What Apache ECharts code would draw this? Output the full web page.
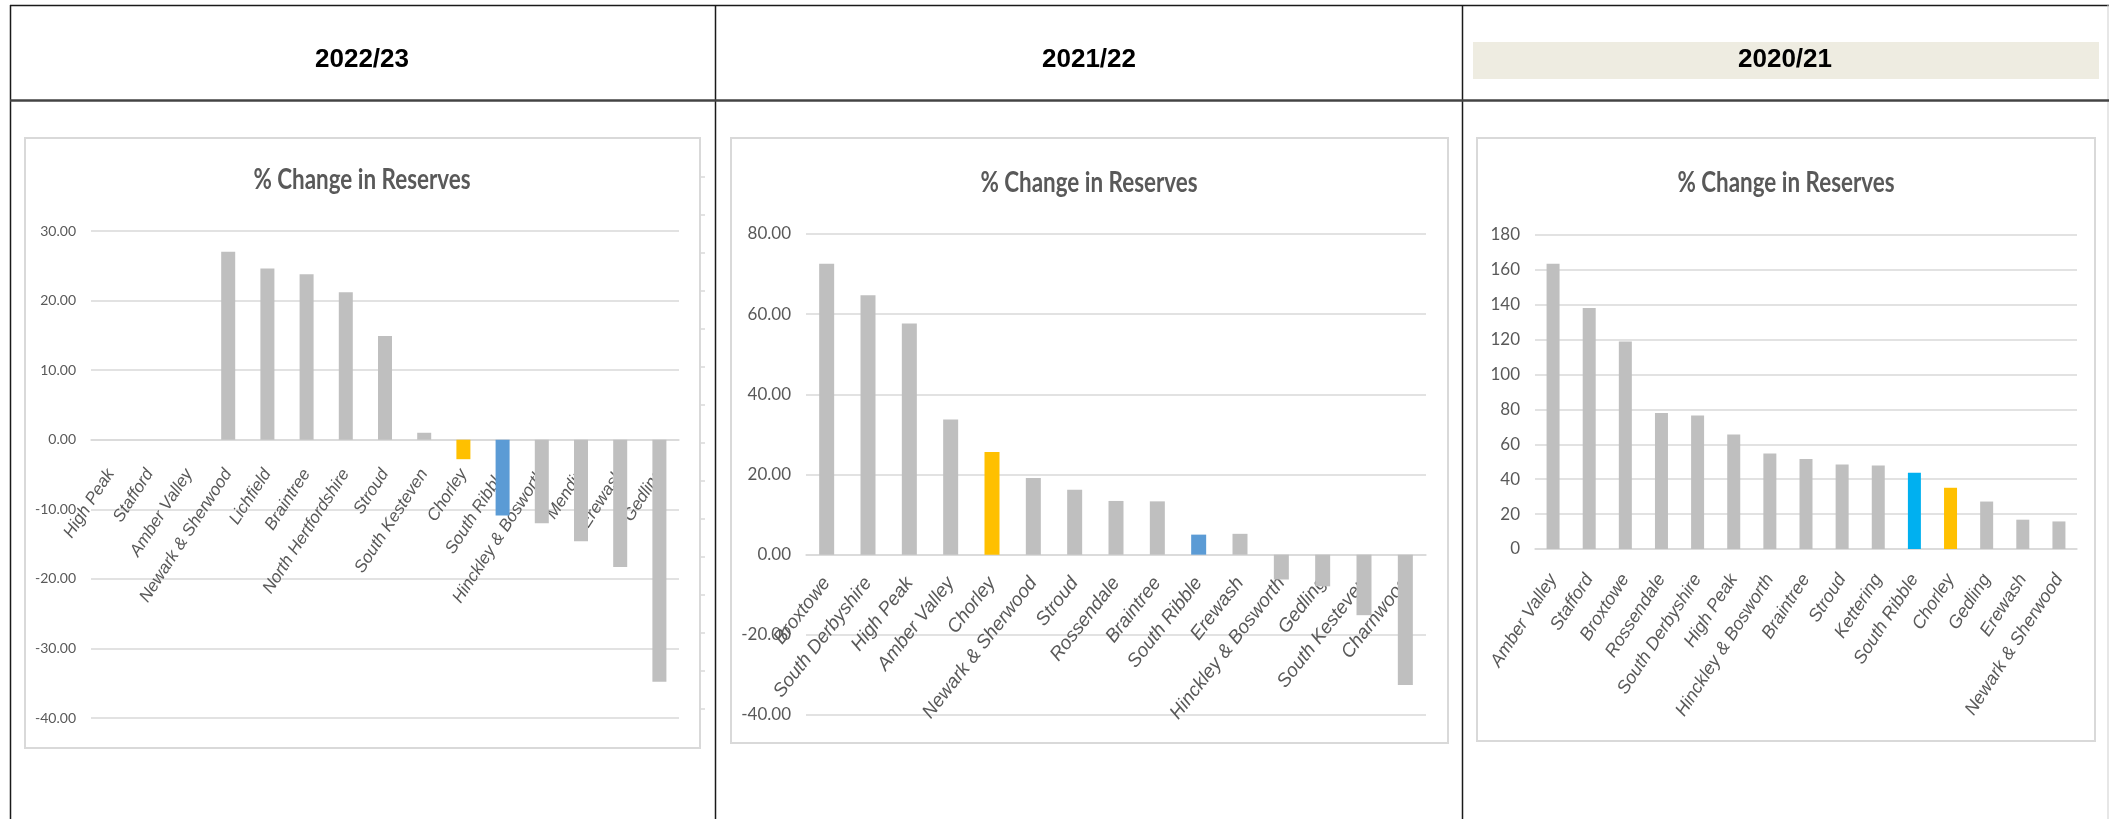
<!DOCTYPE html>
<html>
<head>
<meta charset="utf-8">
<script src="https://cdn.jsdelivr.net/npm/echarts@6/dist/echarts.min.js"></script>
<style>
  html, body { margin: 0; padding: 0; background: #ffffff; }
  #main { width: 2109px; height: 819px; }
</style>
</head>
<body>
<div id="main"></div>
<script>
// Column headers and chart title
const periods = ['2022/23', '2021/22', '2020/21'];
const chartTitle = '% Change in Reserves';

// 2022/23
const councils2223 = ['High Peak', 'Stafford', 'Amber Valley', 'Newark & Sherwood', 'Lichfield', 'Braintree',
  'North Hertfordshire', 'Stroud', 'South Kesteven', 'Chorley', 'South Ribble', 'Hinckley & Bosworth',
  'Mendip', 'Erewash', 'Gedling'];
const change2223 = [0, 0, 0, 27.0, 24.6, 23.8, 21.2, 14.9, 1.0, -2.8, -10.9, -12.0, -14.6, -18.3, -34.8];
const axis2223 = [-40, 30, 10]; // min, max, step

// 2021/22
const councils2122 = ['Broxtowe', 'South Derbyshire', 'High Peak', 'Amber Valley', 'Chorley', 'Newark & Sherwood',
  'Stroud', 'Rossendale', 'Braintree', 'South Ribble', 'Erewash', 'Hinckley & Bosworth', 'Gedling',
  'South Kesteven', 'Charnwood'];
const change2122 = [72.6, 64.7, 57.7, 33.7, 25.6, 19.1, 16.2, 13.4, 13.3, 5.0, 5.2, -6.2, -7.9, -15.1, -32.5];
const axis2122 = [-40, 80, 20];

// 2020/21
const councils2021 = ['Amber Valley', 'Stafford', 'Broxtowe', 'Rossendale', 'South Derbyshire', 'High Peak',
  'Hinckley & Bosworth', 'Braintree', 'Stroud', 'Kettering', 'South Ribble', 'Chorley', 'Gedling',
  'Erewash', 'Newark & Sherwood'];
const change2021 = [163.5, 138.1, 119.0, 77.9, 76.5, 65.7, 54.8, 51.6, 48.5, 47.8, 43.7, 35.1, 27.2, 16.8, 15.8];
const axis2021 = [0, 180, 20];

const FONT = 'Lato, "Open Sans", sans-serif';
const ITALIC_FONT = '"Liberation Sans", Arial, sans-serif';
const GREY_BAR = '#BFBFBF';
const TEXT = '#595959';
const GRIDLINE = '#D9D9D9';

// Chorley is always highlighted in amber, South Ribble in blue
function barData(names, values, ribbleColour) {
  return values.map((v, i) => {
    let c = GREY_BAR;
    if (names[i] === 'Chorley') c = '#FFC000';
    if (names[i] === 'South Ribble') c = ribbleColour;
    return { value: v, itemStyle: { color: c } };
  });
}

const panels = [
  { names: councils2223, values: change2223, axis: axis2223, decimals: 2, ribble: '#5B9BD5',
    grid: { left: 91, top: 231, width: 588, height: 487 }, barWidth: 14, rotate: 57,
    labelSize: 17, labelMargin: 31, ySize: 14 },
  { names: councils2122, values: change2122, axis: axis2122, decimals: 2, ribble: '#5B9BD5',
    grid: { left: 806, top: 234, width: 620, height: 481 }, barWidth: 15, rotate: 52,
    labelSize: 19, labelMargin: 25, ySize: 17 },
  { names: councils2021, values: change2021, axis: axis2021, decimals: 0, ribble: '#00B0F0',
    grid: { left: 1535, top: 235, width: 542, height: 314 }, barWidth: 13, rotate: 57,
    labelSize: 18, labelMargin: 27, ySize: 17 }
];

const grids = [], xAxes = [], yAxes = [], series = [];
panels.forEach((p, k) => {
  const [lo, hi, step] = p.axis;
  // the category axis sits on the zero line of the value axis
  const zeroShift = -p.grid.height * (0 - lo) / (hi - lo);
  grids.push(Object.assign({ containLabel: false }, p.grid));
  xAxes.push({
    type: 'category', gridIndex: k, data: p.names, offset: zeroShift,
    axisLine: { show: true, onZero: false, lineStyle: { color: GRIDLINE, width: 1.5 } },
    axisTick: { show: false },
    axisLabel: {
      interval: 0, rotate: p.rotate, margin: p.labelMargin, color: TEXT, fontStyle: 'italic',
      fontSize: p.labelSize, fontFamily: ITALIC_FONT
    }
  });
  yAxes.push({
    type: 'value', gridIndex: k, min: lo, max: hi, interval: step,
    axisLine: { show: false }, axisTick: { show: false },
    splitLine: { show: true, lineStyle: { color: GRIDLINE, width: 1.5 } },
    axisLabel: {
      margin: 15, color: TEXT, fontSize: p.ySize, fontFamily: FONT,
      formatter: v => v.toFixed(p.decimals)
    }
  });
  series.push({
    type: 'bar', xAxisIndex: k, yAxisIndex: k, barWidth: p.barWidth,
    data: barData(p.names, p.values, p.ribble), silent: true
  });
});

// Table frame, header cells and chart frames
const DARK = '#1a1a1a';
const line = (x1, y1, x2, y2, color, w) => ({
  type: 'line', silent: true, z: 10,
  shape: { x1, y1, x2, y2 }, style: { stroke: color, lineWidth: w }
});
const frame = (x, y, w, h) => ({
  type: 'rect', silent: true, z: -1,
  shape: { x, y, width: w, height: h }, style: { fill: '#ffffff', stroke: '#D9D9D9', lineWidth: 2 }
});
const headerX = [362, 1089, 1785];
const titleX = [362, 1089, 1786];
const titleY = [180, 183, 183];

const graphics = [
  { type: 'rect', silent: true, z: -2, shape: { x: 1473, y: 42, width: 626, height: 37 }, style: { fill: '#EEECE1' } },
  line(10, 5.5, 2109, 5.5, DARK, 1.5),
  line(10.5, 5, 10.5, 819, DARK, 1.5),
  line(715.5, 5, 715.5, 819, DARK, 1.5),
  line(1462.5, 5, 1462.5, 819, DARK, 1.5),
  line(2108, 5, 2108, 819, '#cfcfcf', 1),
  line(10, 100.5, 2109, 100.5, '#444444', 2.5),
  frame(25, 138, 675, 610),
  frame(731, 138, 717, 605),
  frame(1477, 138, 618, 603)
];
// small ruler notches along the right edge of the first frame
for (let y = 177; y < 720; y += 38) graphics.push(line(701, y, 705, y, '#D9D9D9', 1.5));

periods.forEach((t, i) => {
  graphics.push({
    type: 'text', silent: true, z: 11, x: headerX[i], y: 60,
    style: { text: t, font: 'bold 26px "Liberation Sans", Arial, sans-serif', fill: '#000000',
      textAlign: 'center', textVerticalAlign: 'middle', align: 'center', verticalAlign: 'middle' }
  });
  graphics.push({
    type: 'text', silent: true, z: 11, x: titleX[i], y: titleY[i], scaleX: 0.83, scaleY: 1.05,
    style: { text: chartTitle, font: 'bold 27px ' + FONT, fill: TEXT,
      textAlign: 'center', textVerticalAlign: 'middle', align: 'center', verticalAlign: 'middle' }
  });
});

const chart = echarts.init(document.getElementById('main'), null, { renderer: 'canvas' });
chart.setOption({
  animation: false,
  backgroundColor: '#ffffff',
  grid: grids,
  xAxis: xAxes,
  yAxis: yAxes,
  series: series,
  graphic: graphics
});
</script>
</body>
</html>
